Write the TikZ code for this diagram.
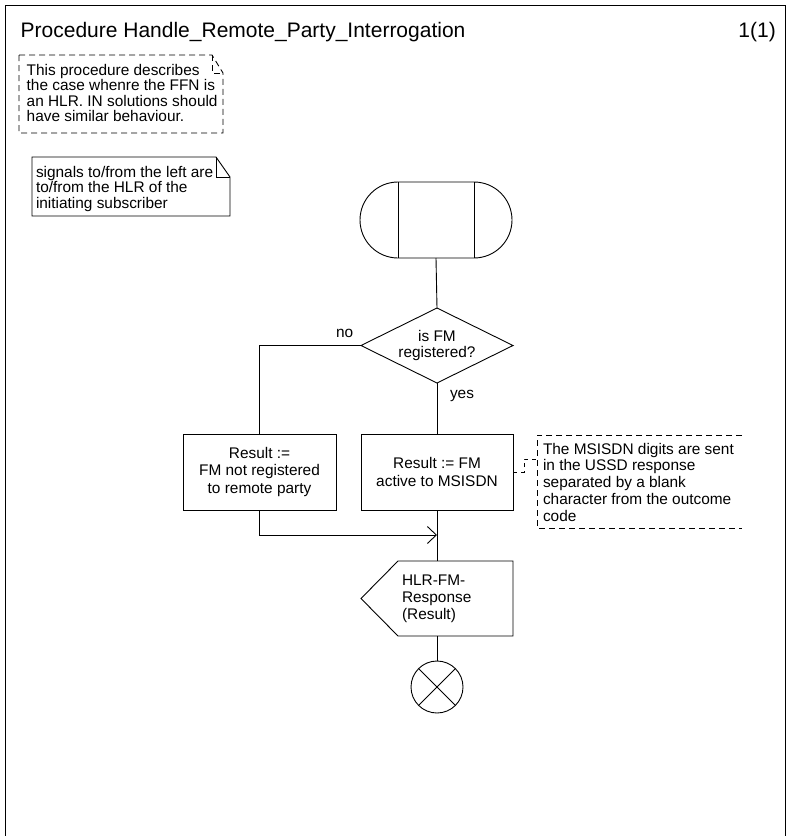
\documentclass[tikz,border=0pt]{standalone}
\usepackage{fontspec}
\setmainfont{Liberation Sans}
\usetikzlibrary{calc,arrows.meta}
\tikzset{
  ln/.style={line width=0.9pt},
  txt/.style={inner sep=0pt, outer sep=0pt, anchor=base west, font=\fontsize{15.4}{17.5}\selectfont},
  ctxt/.style={inner sep=0pt, outer sep=0pt, align=center, font=\fontsize{15.4}{17.5}\selectfont},
  taskbox/.style={draw, ln, inner sep=0pt, outer sep=0pt, align=center, font=\fontsize{15.4}{17.5}\selectfont},
  ghost/.style={inner sep=0pt, outer sep=0pt},
  dsh/.style={ln, dash pattern=on 6pt off 4pt},
}
\begin{document}
\begin{tikzpicture}[x=1pt,y=1pt]
\useasboundingbox (0,0) rectangle (791,-836);
% frame
\draw[ln] (5,-837) -- (5,-5) -- (785,-5) -- (785,-837);
\node[inner sep=0pt, anchor=base west, font=\fontsize{21}{24}\selectfont] (title) at (20.5,-37.3) {Procedure Handle\_Remote\_Party\_Interrogation};
\node[inner sep=0pt, anchor=base east, font=\fontsize{21}{24}\selectfont] (page) at (776,-37.3) {1(1)};

% dashed note
\draw[dsh] (19,-55) -- (212,-55) -- (223,-73) -- (223,-133) -- (19,-133) -- cycle;
\draw[dsh] (212,-55) -- (212,-73) -- (223,-73);
\node[txt] (na) at (26.7,-75) {This procedure describes};
\node[txt] (nb) at (26.7,-90.5) {the case whenre the FFN is};
\node[txt] (nc) at (26.7,-106) {an HLR. IN solutions should};
\node[txt] (nd) at (26.7,-121.5) {have similar behaviour.};

% solid note
\draw[ln] (32,-157) -- (216,-157) -- (230,-177) -- (230,-216) -- (32,-216) -- cycle;
\draw[ln] (216,-157) -- (216,-177) -- (230,-177);
\node[txt] (sa) at (36,-177) {signals to/from the left are};
\node[txt] (sb) at (36,-192.5) {to/from the HLR of the};
\node[txt] (sc) at (36,-208) {initiating subscriber};

% start symbol
\node[ghost, minimum width=76pt, minimum height=76pt] (start) at (436,-220) {};
\draw[ln] (start.north west) -- (start.north east) arc[start angle=90, end angle=-90, radius=38pt]
  -- (start.south west) arc[start angle=270, end angle=90, radius=38pt] -- cycle;
\draw[ln] (start.north west) -- (start.south west);
\draw[ln] (start.north east) -- (start.south east);

% decision
\node[ghost, minimum width=152pt, minimum height=75pt, align=center, font=\fontsize{15.4}{15.5}\selectfont] (dec) at (437,-345.5) {is FM\\registered?};
\draw[ln] (dec.north) -- (dec.east) -- (dec.south) -- (dec.west) -- cycle;
\draw[ln] (start.south) -- (dec.north);

% tasks
\node[taskbox, minimum width=153pt, minimum height=76pt] (box1) at (259.5,-472) {Result :=\\FM not registered\\to remote party};
\node[taskbox, minimum width=152pt, minimum height=76pt] (box2) at (437,-472) {Result := FM\\active to MSISDN};
\draw[ln] (dec.west) -| (box1.north);
\draw[ln] (dec.south) -- (box2.north);
\node[txt] (no) at (336,-337) {no};
\node[txt] (yes) at (450,-398) {yes};

% comment
\coordinate (ctl) at (537,-435);
\coordinate (cbl) at (537,-528);
\coordinate (ctr) at (742,-435);
\coordinate (cbr) at (742,-528);
\coordinate (cjoin) at (537,-459);
\coordinate (cbend) at (524,-459);
\draw[dsh] (ctr) -- (ctl) -- (cbl) -- (cbr);
\draw[dsh, dash pattern=on 4pt off 4pt] (box2.east) -| (cbend) -- (cjoin);
\node[txt] (ca) at (543,-454.3) {The MSISDN digits are sent};
\node[txt] (cb) at (543,-470) {in the USSD response};
\node[txt] (cc) at (543,-487) {separated by a blank};
\node[txt] (cd) at (543,-504) {character from the outcome};
\node[txt] (ce) at (543,-521.5) {code};

% output signal
\node[ghost, minimum width=152pt, minimum height=75pt] (sig) at (437,-598.5) {};
\draw[ln] ($(sig.north west)+(37,0)$) -- (sig.north east) -- (sig.south east) -- ($(sig.south west)+(37,0)$) -- (sig.west) -- cycle;
\node[ghost, anchor=west, align=left, font=\fontsize{15.4}{17}\selectfont] (sigtxt) at (402,-598.5) {HLR-FM-\\Response\\(Result)};
\coordinate (merge) at (437,-535);
\draw[ln] (box2.south) -- (sig.north);
\draw[ln, -{Straight Barb[length=9pt, width=17pt]}] (box1.south) |- (merge);

% end
\node[draw, ln, circle, minimum size=52pt, inner sep=0pt, outer sep=0pt] (end) at (437,-687) {};
\draw[ln] (end.north east) -- (end.south west);
\draw[ln] (end.north west) -- (end.south east);
\draw[ln] (sig.south) -- (end.north);
\end{tikzpicture}
\end{document}
